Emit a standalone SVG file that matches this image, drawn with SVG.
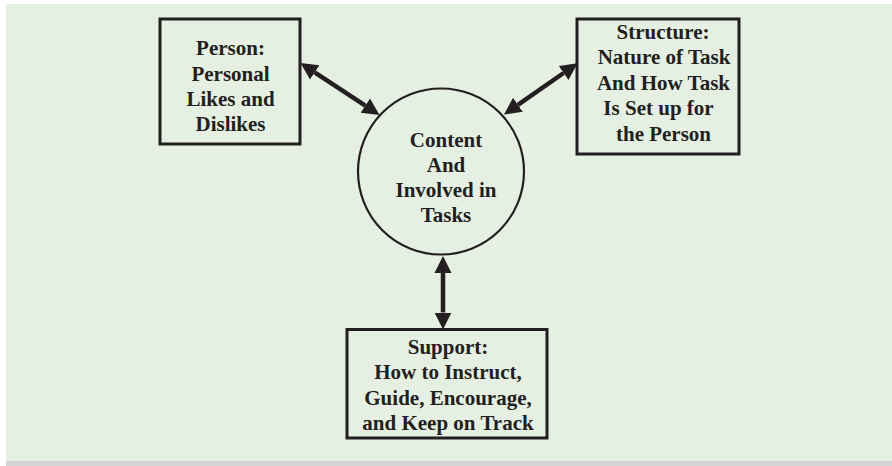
<svg xmlns="http://www.w3.org/2000/svg" width="892" height="466" viewBox="0 0 892 466">
  <style>
    .box { fill: none; stroke: #231f20; stroke-width: 3; }
    .circ { fill: none; stroke: #231f20; stroke-width: 2.2; }
    .lbl { font-family: "Liberation Serif", "Times New Roman", serif; font-weight: bold; font-size: 21px; fill: #231f20; text-anchor: middle; }
    .conn { stroke: #231f20; stroke-width: 4.5; fill: none; marker-start: url(#head); marker-end: url(#head); }
  </style>
  <defs>
    <marker id="head" markerUnits="userSpaceOnUse" markerWidth="20" markerHeight="20" viewBox="0 -10 20 20" refX="0" refY="0" orient="auto-start-reverse">
      <path d="M0,-8.5 L17,0 L0,8.5 Z" fill="#231f20"/>
    </marker>
  </defs>
  <rect x="0" y="0" width="892" height="466" fill="#ffffff"/>
  <rect x="6" y="461" width="886" height="5" fill="#d4d4d4"/>
  <rect x="6" y="4" width="886" height="457" fill="#e5f0e2"/>

  <g id="connectors">
    <line class="conn" x1="314.7" y1="72.4" x2="365.3" y2="105.6"/>
    <line class="conn" x1="563.6" y1="73.0" x2="517.9" y2="104.8"/>
    <line class="conn" x1="443" y1="273" x2="443" y2="312.5"/>
  </g>

  <g id="person">
    <rect class="box" x="160" y="19" width="140" height="125"/>
    <text class="lbl" x="230.5" y="55">Person:</text>
    <text class="lbl" x="230.5" y="80.5">Personal</text>
    <text class="lbl" x="230.5" y="106">Likes and</text>
    <text class="lbl" x="230.5" y="131">Dislikes</text>
  </g>

  <g id="structure">
    <rect class="box" x="577" y="19" width="162" height="135"/>
    <text class="lbl" x="663" y="39">Structure:</text>
    <text class="lbl" x="664" y="64">Nature of Task</text>
    <text class="lbl" x="663.5" y="90">And How Task</text>
    <text class="lbl" x="658.5" y="115">Is Set up for</text>
    <text class="lbl" x="663.5" y="141">the Person</text>
  </g>

  <g id="content">
    <circle class="circ" cx="441" cy="171.5" r="83"/>
    <text class="lbl" x="446" y="147">Content</text>
    <text class="lbl" x="446" y="172">And</text>
    <text class="lbl" x="446" y="197">Involved in</text>
    <text class="lbl" x="446" y="222">Tasks</text>
  </g>

  <g id="support">
    <rect class="box" x="347" y="329.5" width="200" height="108.5"/>
    <text class="lbl" x="448" y="354">Support:</text>
    <text class="lbl" x="448" y="379">How to Instruct,</text>
    <text class="lbl" x="448" y="405">Guide, Encourage,</text>
    <text class="lbl" x="448" y="430">and Keep on Track</text>
  </g>
</svg>
